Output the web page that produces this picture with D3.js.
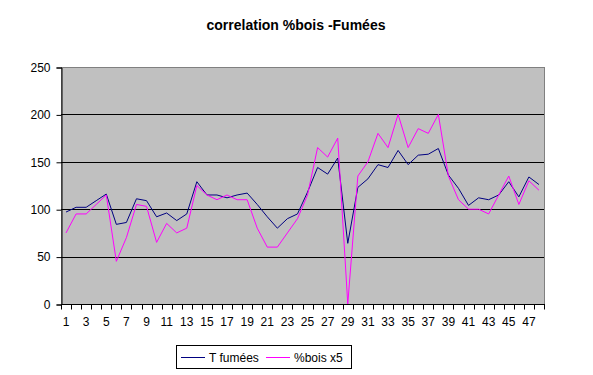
<!DOCTYPE html>
<html>
<head>
<meta charset="utf-8">
<script src="https://cdnjs.cloudflare.com/ajax/libs/d3/7.8.5/d3.min.js"></script>
<style>
body { margin: 0; background: #fff; }
text { font-family: Arial, "Liberation Sans", sans-serif; }
</style>
</head>
<body>
<svg id="chart" width="593" height="375"></svg>
<script>
var categories = d3.range(1, 49);
var tFumees = [97, 102, 102, 109, 116, 84, 86, 111, 109, 92, 96, 88, 95, 129, 115, 115,
    112, 115, 117, 105, 92, 80, 90, 95, 118, 144, 137, 154, 64, 123, 132, 147,
    144, 162, 147, 157, 158, 164, 136, 122, 104, 112, 110, 115, 129, 113, 134, 126];
var boisX5 = [75, 95, 95, 105, 115, 45, 70, 105, 103, 65, 85, 75, 80, 125, 115, 110,
    115, 110, 110, 80, 60, 60, 75, 90, 115, 165, 155, 175, 0, 135, 150, 180,
    165, 200, 165, 185, 180, 200, 135, 110, 100, 100, 95, 115, 135, 105, 130, 120];
var yTicks = [0, 50, 100, 150, 200, 250];
var seriesNames = ["T fumées", "%bois x5"];
var seriesColors = ["#000080", "#ff00ff"];

var svg = d3.select("#chart");
// plot area box (window.top is reserved, so pL/pR/pT/pB)
var pL = 61, pR = 544, pT = 67, pB = 304;

var x = d3.scaleBand().domain(categories).range([pL, pR]);
var y = d3.scaleLinear().domain([0, 250]).range([pB, pT]);

// title
svg.append("text").attr("x", 296).attr("y", 30).attr("text-anchor", "middle")
    .attr("font-size", "14px").attr("font-weight", "bold").text("correlation %bois -Fumées");

// plot area
svg.append("rect").attr("x", pL + 0.5).attr("y", pT + 0.5).attr("width", pR - pL).attr("height", pB - pT)
    .attr("fill", "#c0c0c0").attr("stroke", "#808080").attr("stroke-width", 1);

// gridlines
svg.append("g").selectAll("line").data(yTicks.filter(function(d) { return d > 0 && d < 250; }))
    .enter().append("line")
    .attr("x1", pL).attr("x2", pR)
    .attr("y1", function(d) { return Math.round(y(d)) + 0.5; })
    .attr("y2", function(d) { return Math.round(y(d)) + 0.5; })
    .attr("stroke", "#000").attr("stroke-width", 1);

// y axis
var yAxis = d3.axisLeft(y).tickValues(yTicks).tickSize(5).tickPadding(6);
var gy = svg.append("g").attr("transform", "translate(" + (pL + 0.5) + ",0.5)").call(yAxis);
gy.selectAll("text").attr("font-size", "12px").attr("fill", "#000").attr("font-family", "Arial, 'Liberation Sans', sans-serif");
gy.select(".domain").attr("stroke", "#000");

// x axis, ticks between categories
var gx = svg.append("g").attr("transform", "translate(0," + (pB + 0.5) + ")");
gx.append("line").attr("x1", pL).attr("x2", pR + 1).attr("stroke", "#000");
gx.selectAll(".tk").data(d3.range(0, categories.length + 1)).enter().append("line").attr("class", "tk")
    .attr("x1", function(i) { return Math.round(pL + i * x.step()) + 0.5; })
    .attr("x2", function(i) { return Math.round(pL + i * x.step()) + 0.5; })
    .attr("y1", 0).attr("y2", 5).attr("stroke", "#000");
gx.selectAll(".lb").data(categories.filter(function(d) { return d % 2 == 1; })).enter().append("text").attr("class", "lb")
    .attr("x", function(d) { return x(d) + x.bandwidth() / 2; })
    .attr("y", 21).attr("text-anchor", "middle").attr("font-size", "12px").text(function(d) { return d; });

// series lines
[tFumees, boisX5].forEach(function(vals, k) {
    var line = d3.line()
        .x(function(d, i) { return x(categories[i]) + x.bandwidth() / 2; })
        .y(function(d) { return y(d); });
    svg.append("path").datum(vals).attr("d", line)
        .attr("fill", "none").attr("stroke", seriesColors[k]).attr("stroke-width", 1);
});

// legend
var lg = svg.append("g");
lg.append("rect").attr("x", 176.5).attr("y", 345.5).attr("width", 175).attr("height", 23)
    .attr("fill", "#fff").attr("stroke", "#000");
var lx = [181, 266];
seriesNames.forEach(function(n, k) {
    lg.append("line").attr("x1", lx[k]).attr("x2", lx[k] + 24).attr("y1", 357.5).attr("y2", 357.5)
        .attr("stroke", seriesColors[k]);
    lg.append("text").attr("x", lx[k] + 28).attr("y", 362).attr("font-size", "12px").text(n);
});
</script>
</body>
</html>
